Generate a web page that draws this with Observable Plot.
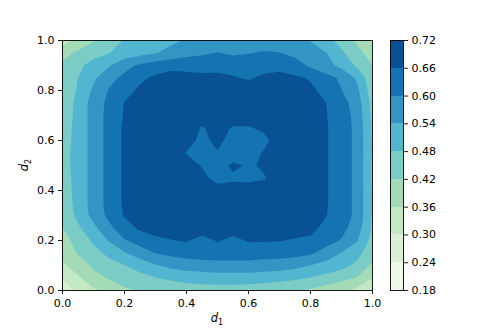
<!DOCTYPE html>
<html><head><meta charset="utf-8">
<script src="https://cdn.jsdelivr.net/npm/d3@7"></script>
<script src="https://cdn.jsdelivr.net/npm/@observablehq/plot@0.6"></script>
<style>
html,body{margin:0;padding:0;background:#fff;}
#wrap{position:relative;width:498px;height:332px;overflow:hidden;background:#fff;}
#wrap svg{position:absolute;left:0;top:0;}
</style></head><body><div id="wrap"></div>
<script>
// contour levels (colorbar ticks) and band colours
const levels = [0.18, 0.24, 0.30, 0.36, 0.42, 0.48, 0.54, 0.60, 0.66, 0.72];
const bandColors = ["#edf8e7", "#d9f0d4", "#c4e8c1", "#a3dbb7", "#7bccc4", "#53b6d1", "#3395c3", "#1474b2", "#085294"];
const d1Ticks = [0.0, 0.2, 0.4, 0.6, 0.8, 1.0];
const d2Ticks = [0.0, 0.2, 0.4, 0.6, 0.8, 1.0];

// grid samples: columns d1 = 0.00 .. 1.00 (step 0.05), one row per d2 value
const row100 = [0.33, 0.38, 0.415, 0.45, 0.485, 0.50, 0.515, 0.53, 0.545, 0.56, 0.57, 0.565, 0.57, 0.575, 0.57, 0.56, 0.538, 0.50, 0.46, 0.41, 0.35];
const row095 = [0.40, 0.43, 0.455, 0.478, 0.505, 0.52, 0.538, 0.555, 0.575, 0.59, 0.602, 0.59, 0.598, 0.605, 0.602, 0.585, 0.565, 0.542, 0.49, 0.44, 0.39];
const row090 = [0.43, 0.465, 0.505, 0.535, 0.58, 0.61, 0.63, 0.645, 0.65, 0.645, 0.64, 0.64, 0.635, 0.64, 0.645, 0.625, 0.59, 0.56, 0.525, 0.47, 0.42];
const row085 = [0.43, 0.48, 0.53, 0.58, 0.615, 0.65, 0.67, 0.68, 0.67, 0.67, 0.675, 0.665, 0.655, 0.67, 0.675, 0.67, 0.655, 0.62, 0.59, 0.53, 0.435];
const row080 = [0.415, 0.49, 0.55, 0.605, 0.64, 0.67, 0.685, 0.69, 0.69, 0.69, 0.69, 0.685, 0.685, 0.69, 0.69, 0.685, 0.67, 0.645, 0.602, 0.555, 0.445];
const row075 = [0.43, 0.50, 0.565, 0.615, 0.662, 0.68, 0.69, 0.695, 0.695, 0.695, 0.69, 0.69, 0.69, 0.695, 0.695, 0.69, 0.68, 0.66, 0.625, 0.57, 0.46];
const row070 = [0.44, 0.50, 0.565, 0.62, 0.665, 0.685, 0.69, 0.695, 0.695, 0.69, 0.69, 0.69, 0.69, 0.69, 0.695, 0.69, 0.685, 0.663, 0.63, 0.58, 0.465];
const row065 = [0.45, 0.50, 0.565, 0.62, 0.67, 0.685, 0.69, 0.69, 0.69, 0.655, 0.68, 0.655, 0.655, 0.67, 0.69, 0.69, 0.685, 0.665, 0.63, 0.585, 0.47];
const row060 = [0.455, 0.50, 0.565, 0.62, 0.67, 0.685, 0.69, 0.69, 0.69, 0.64, 0.68, 0.63, 0.63, 0.645, 0.69, 0.69, 0.685, 0.665, 0.63, 0.585, 0.475];
const row055 = [0.46, 0.50, 0.565, 0.62, 0.67, 0.685, 0.69, 0.69, 0.657, 0.635, 0.655, 0.617, 0.635, 0.665, 0.69, 0.69, 0.685, 0.665, 0.63, 0.585, 0.475];
const row050 = [0.46, 0.50, 0.565, 0.62, 0.67, 0.685, 0.69, 0.69, 0.69, 0.655, 0.625, 0.675, 0.65, 0.67, 0.69, 0.69, 0.685, 0.665, 0.63, 0.585, 0.47];
const row045 = [0.455, 0.50, 0.565, 0.62, 0.67, 0.685, 0.69, 0.69, 0.69, 0.68, 0.635, 0.647, 0.645, 0.655, 0.69, 0.69, 0.685, 0.665, 0.63, 0.585, 0.47];
const row040 = [0.45, 0.50, 0.565, 0.62, 0.67, 0.685, 0.69, 0.69, 0.69, 0.69, 0.69, 0.69, 0.69, 0.69, 0.69, 0.69, 0.685, 0.665, 0.63, 0.585, 0.475];
const row035 = [0.445, 0.50, 0.565, 0.62, 0.67, 0.685, 0.69, 0.69, 0.69, 0.69, 0.695, 0.69, 0.69, 0.69, 0.69, 0.69, 0.685, 0.665, 0.63, 0.585, 0.475];
const row030 = [0.435, 0.495, 0.56, 0.615, 0.665, 0.68, 0.685, 0.69, 0.69, 0.69, 0.69, 0.69, 0.69, 0.69, 0.69, 0.685, 0.68, 0.662, 0.63, 0.585, 0.475];
const row025 = [0.418, 0.47, 0.525, 0.585, 0.635, 0.67, 0.68, 0.685, 0.69, 0.69, 0.69, 0.69, 0.69, 0.69, 0.69, 0.685, 0.675, 0.645, 0.62, 0.57, 0.47];
const row020 = [0.40, 0.44, 0.49, 0.545, 0.595, 0.625, 0.65, 0.658, 0.665, 0.64, 0.665, 0.645, 0.665, 0.665, 0.662, 0.655, 0.65, 0.625, 0.595, 0.545, 0.46];
const row015 = [0.38, 0.425, 0.46, 0.495, 0.535, 0.57, 0.602, 0.615, 0.625, 0.63, 0.63, 0.63, 0.63, 0.625, 0.625, 0.62, 0.61, 0.575, 0.538, 0.50, 0.44];
const row010 = [0.35, 0.39, 0.43, 0.46, 0.478, 0.505, 0.535, 0.555, 0.57, 0.575, 0.58, 0.58, 0.58, 0.575, 0.57, 0.56, 0.538, 0.52, 0.50, 0.465, 0.41];
const row005 = [0.31, 0.35, 0.40, 0.425, 0.445, 0.46, 0.478, 0.49, 0.50, 0.505, 0.51, 0.51, 0.51, 0.505, 0.50, 0.49, 0.478, 0.46, 0.44, 0.415, 0.358];
const row000 = [0.25, 0.315, 0.35, 0.375, 0.41, 0.425, 0.435, 0.445, 0.45, 0.455, 0.455, 0.455, 0.45, 0.445, 0.435, 0.425, 0.41, 0.39, 0.37, 0.345, 0.31];

// bottom row (d2 = 0) first
const rowsBottomUp = [row000, row005, row010, row015, row020, row025, row030, row035, row040, row045,
  row050, row055, row060, row065, row070, row075, row080, row085, row090, row095, row100];
const nx = row000.length, ny = rowsBottomUp.length;
const grid = rowsBottomUp.flat();
const thresholds = levels.slice(0, -1);
const hx = 0.5 / (nx - 1), hy = 0.5 / (ny - 1);

const font = {fontFamily: "'DejaVu Sans', sans-serif", fontSize: "11px", color: "black"};

const main = Plot.plot({
  width: 498, height: 332,
  marginLeft: 62, marginRight: 126, marginTop: 40, marginBottom: 42,
  x: {domain: [0, 1]},
  y: {domain: [0, 1]},
  color: {type: "ordinal", domain: thresholds, range: bandColors},
  style: {...font, background: "white"},
  marks: [
    Plot.contour(grid, {width: nx, height: ny, x1: -hx, x2: 1 + hx, y1: -hy, y2: 1 + hy,
      thresholds, fill: Plot.identity, stroke: "none", clip: true}),
    Plot.frame({stroke: "black", strokeWidth: 0.9}),
    Plot.axisX({ticks: d1Ticks, tickFormat: d3.format(".1f"), tickSize: 4, tickPadding: 5, label: null, strokeWidth: 0.9}),
    Plot.axisY({ticks: d2Ticks, tickFormat: d3.format(".1f"), tickSize: 4, tickPadding: 4, label: null, strokeWidth: 0.9})
  ]
});

const cbBands = thresholds.map((lo, k) => ({lo, hi: levels[k + 1]}));
const cbar = Plot.plot({
  width: 498, height: 332,
  marginLeft: 390, marginRight: 95, marginTop: 40, marginBottom: 42,
  x: {domain: [0, 1], axis: null},
  y: {domain: [levels[0], levels[levels.length - 1]]},
  color: {type: "ordinal", domain: thresholds, range: bandColors},
  style: {...font, background: "transparent"},
  marks: [
    Plot.rect(cbBands, {x1: 0, x2: 1, y1: "lo", y2: "hi", fill: "lo", shapeRendering: "crispEdges"}),
    Plot.frame({stroke: "black", strokeWidth: 0.9}),
    Plot.axisY({anchor: "right", ticks: levels, tickFormat: d3.format(".2f"), tickSize: 4, tickPadding: 4, label: null, strokeWidth: 0.9})
  ]
});

const wrap = document.getElementById("wrap");
wrap.appendChild(main);
wrap.appendChild(cbar);

// axis labels (math-style italic d with subscript)
const s = d3.select(main);
const xl = s.append("text").attr("x", 217).attr("y", 322).attr("text-anchor", "middle")
  .attr("font-size", 11.5).attr("fill", "black");
xl.append("tspan").attr("font-style", "italic").text("d");
xl.append("tspan").attr("dy", 2.5).attr("font-size", 8).text("1");
const yl = s.append("text").attr("transform", "translate(28,165) rotate(-90)").attr("text-anchor", "middle")
  .attr("font-size", 11.5).attr("fill", "black");
yl.append("tspan").attr("font-style", "italic").text("d");
yl.append("tspan").attr("dy", 2.5).attr("font-size", 8).text("2");
</script></body></html>
